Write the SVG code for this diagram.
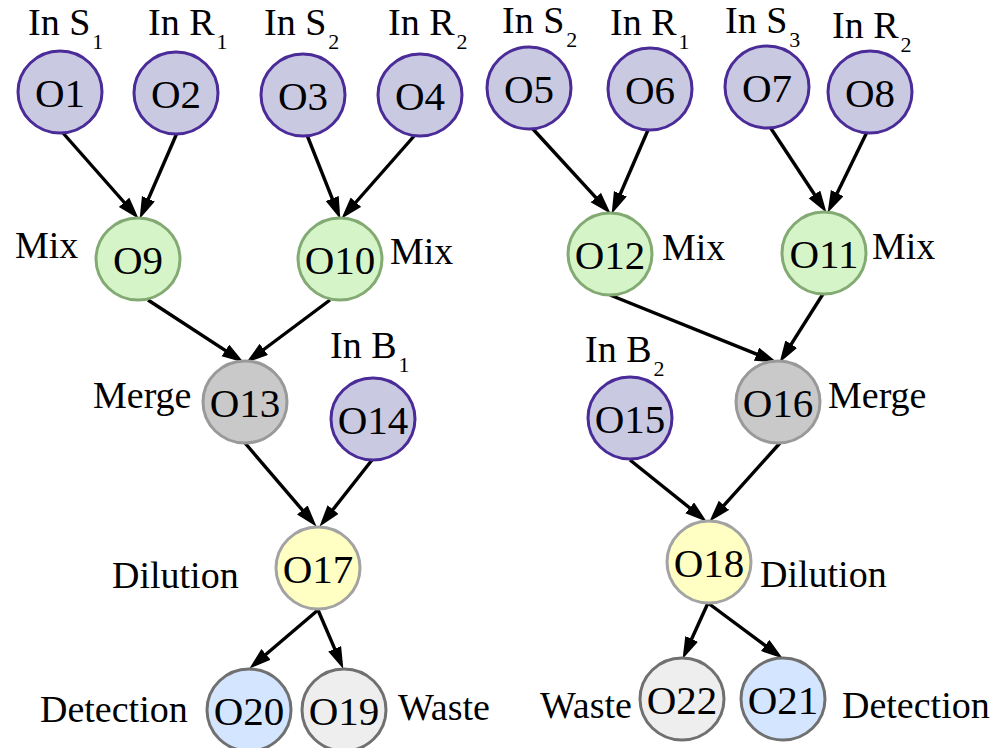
<svg xmlns="http://www.w3.org/2000/svg" width="1002" height="748" viewBox="0 0 1002 748">
  <defs>
    <marker id="arrow" markerUnits="userSpaceOnUse" markerWidth="24" markerHeight="16" refX="13" refY="7" orient="auto">
      <path d="M0,0 L22,7 L0,14 z" fill="#000"/>
    </marker>
    <style>
      .node ellipse { stroke-width: 3; }
      .in ellipse { fill: #c9c9e2; stroke: #4a2b98; }
      .mix ellipse { fill: #d5f5c8; stroke: #82aa72; }
      .merge ellipse { fill: #c9c9c9; stroke: #999999; }
      .dil ellipse { fill: #ffffc4; stroke: #a3a3a3; }
      .det ellipse { fill: #d4e6ff; stroke: #707070; }
      .waste ellipse { fill: #eeeeee; stroke: #707070; }
      text { fill: #000; font-family: "Liberation Serif", "DejaVu Serif", serif; }
      .id { font-size: 41px; text-anchor: middle; }
      .lbl { font-size: 38px; }
      .sub { font-size: 22px; }
      #edges line { stroke: #000; stroke-width: 3.4; marker-end: url(#arrow); }
    </style>
  </defs>
  <rect width="1002" height="748" fill="#fff"/>

  <!-- connectors -->
  <g id="edges">
    <line x1="63" y1="133" x2="132.7" y2="212.0"/>
    <line x1="177" y1="133" x2="143.2" y2="210.7"/>
    <line x1="307" y1="135" x2="337.0" y2="210.6"/>
    <line x1="415" y1="135" x2="347.3" y2="212.0"/>
    <line x1="532" y1="128" x2="604.6" y2="207.1"/>
    <line x1="648" y1="130" x2="615.2" y2="205.7"/>
    <line x1="770" y1="127" x2="821.6" y2="205.3"/>
    <line x1="867" y1="132" x2="831.5" y2="204.8"/>
    <line x1="148" y1="300" x2="236.3" y2="357.6"/>
    <line x1="330" y1="300" x2="253.4" y2="357.2"/>
    <line x1="610" y1="295" x2="768.6" y2="359.0"/>
    <line x1="823" y1="294" x2="784.3" y2="355.2"/>
    <line x1="245" y1="443" x2="310.8" y2="519.9"/>
    <line x1="372" y1="460" x2="325.0" y2="519.7"/>
    <line x1="630" y1="460" x2="699.8" y2="516.0"/>
    <line x1="780" y1="443" x2="715.3" y2="515.0"/>
    <line x1="318" y1="610" x2="256.1" y2="662.8"/>
    <line x1="318" y1="610" x2="339.8" y2="660.7"/>
    <line x1="708" y1="603" x2="686.3" y2="650.7"/>
    <line x1="708" y1="603" x2="775.6" y2="653.2"/>
  </g>

  <!-- inputs -->
  <g id="O1" class="node in">
    <ellipse cx="60" cy="92" rx="42" ry="41"/>
    <text class="id" x="60" y="107">O1</text>
    <text class="lbl" x="28" y="35">In S<tspan class="sub" dx="2" dy="14">1</tspan></text>
  </g>
  <g id="O2" class="node in">
    <ellipse cx="176" cy="93" rx="42" ry="41"/>
    <text class="id" x="176" y="108">O2</text>
    <text class="lbl" x="148" y="35">In R<tspan class="sub" dx="2" dy="14">1</tspan></text>
  </g>
  <g id="O3" class="node in">
    <ellipse cx="303" cy="95" rx="42" ry="41"/>
    <text class="id" x="303" y="110">O3</text>
    <text class="lbl" x="264" y="35">In S<tspan class="sub" dx="2" dy="14">2</tspan></text>
  </g>
  <g id="O4" class="node in">
    <ellipse cx="420" cy="95" rx="42" ry="41"/>
    <text class="id" x="420" y="110">O4</text>
    <text class="lbl" x="388" y="35">In R<tspan class="sub" dx="2" dy="14">2</tspan></text>
  </g>
  <g id="O5" class="node in">
    <ellipse cx="529" cy="88" rx="42" ry="41"/>
    <text class="id" x="529" y="103">O5</text>
    <text class="lbl" x="502" y="33">In S<tspan class="sub" dx="2" dy="14">2</tspan></text>
  </g>
  <g id="O6" class="node in">
    <ellipse cx="650" cy="89" rx="42" ry="41"/>
    <text class="id" x="650" y="104">O6</text>
    <text class="lbl" x="610" y="35">In R<tspan class="sub" dx="2" dy="14">1</tspan></text>
  </g>
  <g id="O7" class="node in">
    <ellipse cx="767" cy="87" rx="42" ry="41"/>
    <text class="id" x="767" y="102">O7</text>
    <text class="lbl" x="725" y="33">In S<tspan class="sub" dx="2" dy="14">3</tspan></text>
  </g>
  <g id="O8" class="node in">
    <ellipse cx="870" cy="92" rx="42" ry="41"/>
    <text class="id" x="870" y="107">O8</text>
    <text class="lbl" x="832" y="38">In R<tspan class="sub" dx="2" dy="14">2</tspan></text>
  </g>

  <!-- mixers -->
  <g id="O9" class="node mix">
    <ellipse cx="138" cy="259" rx="42" ry="41"/>
    <text class="id" x="138" y="274">O9</text>
    <text class="lbl" x="15" y="258">Mix</text>
  </g>
  <g id="O10" class="node mix">
    <ellipse cx="340" cy="259" rx="42" ry="41"/>
    <text class="id" x="340" y="274">O10</text>
    <text class="lbl" x="390" y="264">Mix</text>
  </g>
  <g id="O12" class="node mix">
    <ellipse cx="610" cy="254" rx="42" ry="41"/>
    <text class="id" x="610" y="269">O12</text>
    <text class="lbl" x="662" y="260">Mix</text>
  </g>
  <g id="O11" class="node mix">
    <ellipse cx="824" cy="253" rx="42" ry="41"/>
    <text class="id" x="824" y="268">O11</text>
    <text class="lbl" x="872" y="259">Mix</text>
  </g>

  <!-- merge and buffer inputs -->
  <g id="O13" class="node merge">
    <ellipse cx="245" cy="402" rx="42" ry="41"/>
    <text class="id" x="245" y="417">O13</text>
    <text class="lbl" x="93" y="408">Merge</text>
  </g>
  <g id="O14" class="node in">
    <ellipse cx="373" cy="419" rx="42" ry="41"/>
    <text class="id" x="373" y="434">O14</text>
    <text class="lbl" x="330" y="358">In B<tspan class="sub" dx="2" dy="14">1</tspan></text>
  </g>
  <g id="O15" class="node in">
    <ellipse cx="630" cy="418" rx="42" ry="41"/>
    <text class="id" x="630" y="433">O15</text>
    <text class="lbl" x="585" y="362">In B<tspan class="sub" dx="2" dy="14">2</tspan></text>
  </g>
  <g id="O16" class="node merge">
    <ellipse cx="778" cy="402" rx="42" ry="41"/>
    <text class="id" x="778" y="417">O16</text>
    <text class="lbl" x="828" y="408">Merge</text>
  </g>

  <!-- dilution -->
  <g id="O17" class="node dil">
    <ellipse cx="318" cy="568" rx="42" ry="41"/>
    <text class="id" x="318" y="583">O17</text>
    <text class="lbl" x="112" y="588">Dilution</text>
  </g>
  <g id="O18" class="node dil">
    <ellipse cx="709" cy="562" rx="42" ry="41"/>
    <text class="id" x="709" y="577">O18</text>
    <text class="lbl" x="760" y="587">Dilution</text>
  </g>

  <!-- outputs -->
  <g id="O20" class="node det">
    <ellipse cx="249" cy="710" rx="42" ry="41"/>
    <text class="id" x="249" y="725">O20</text>
    <text class="lbl" x="40" y="722">Detection</text>
  </g>
  <g id="O19" class="node waste">
    <ellipse cx="344" cy="710" rx="42" ry="41"/>
    <text class="id" x="344" y="725">O19</text>
    <text class="lbl" x="398" y="720">Waste</text>
  </g>
  <g id="O22" class="node waste">
    <ellipse cx="682" cy="699" rx="42" ry="41"/>
    <text class="id" x="682" y="714">O22</text>
    <text class="lbl" x="540" y="718">Waste</text>
  </g>
  <g id="O21" class="node det">
    <ellipse cx="783" cy="699" rx="42" ry="41"/>
    <text class="id" x="783" y="714">O21</text>
    <text class="lbl" x="842" y="718">Detection</text>
  </g>
</svg>
